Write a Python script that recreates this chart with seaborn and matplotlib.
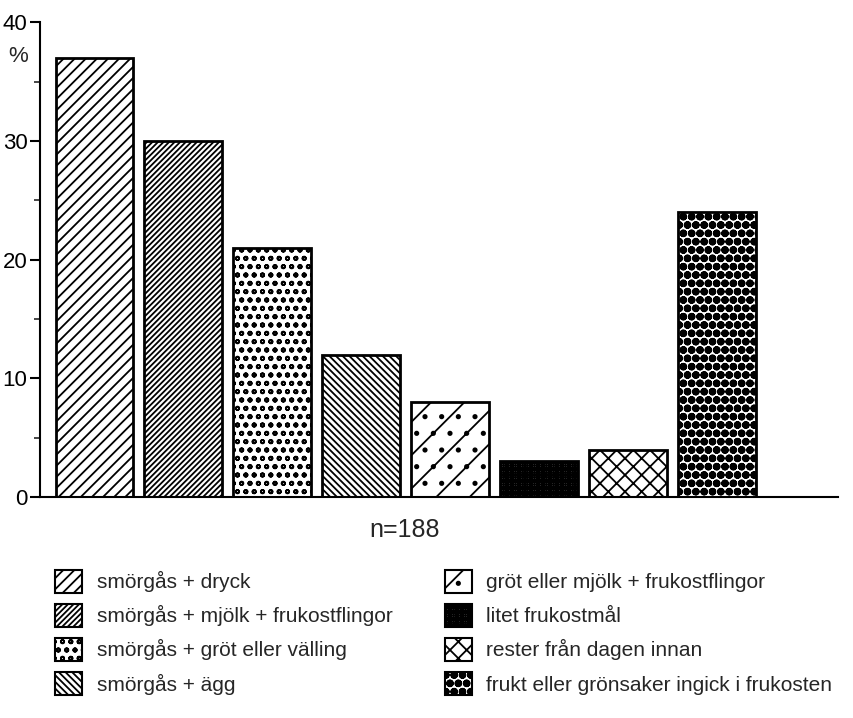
import matplotlib
matplotlib.use("Agg")
import matplotlib.pyplot as plt
import seaborn as sns
import pandas as pd
from matplotlib.patches import Patch

categories = [
    "smörgås + dryck",
    "smörgås + mjölk + frukostflingor",
    "smörgås + gröt eller välling",
    "smörgås + ägg",
    "gröt eller mjölk + frukostflingor",
    "litet frukostmål",
    "rester från dagen innan",
    "frukt eller grönsaker ingick i frukosten",
]
values = [37, 30, 21, 12, 8, 3, 4, 24]
yticks = [0, 10, 20, 30, 40]
hatches = ["///", "//////", "oo", "\\\\\\\\\\", "/.", "+++++++", "xx", "OO.."]

sns.set_theme(style="white")
plt.rcParams["font.family"] = ["Liberation Sans", "DejaVu Sans"]
plt.rcParams["hatch.linewidth"] = 1.3

df = pd.DataFrame({"kat": categories, "val": values})

fig = plt.figure(figsize=(8.54, 7.18), dpi=100)
ax = fig.add_axes([0.0468, 0.3078, 0.9342, 0.6612])

sns.barplot(data=df, x="kat", y="val", hue="kat", order=categories, hue_order=categories,
            palette=["white"] * len(categories), edgecolor="black", linewidth=2,
            width=0.87, legend=False, ax=ax, saturation=1)

for p, h in zip(ax.patches, hatches):
    p.set_hatch(h)
    p.set_edgecolor("black")

ax.set_xlim(-0.61, 8.36)
ax.set_ylim(0, 40)
ax.set_yticks(yticks)
ax.set_yticks([5, 15, 25, 35], minor=True)
ax.set_xticks([])
ax.set_xlabel("")
ax.set_ylabel("")
for s in ["top", "right"]:
    ax.spines[s].set_visible(False)
ax.spines["left"].set_linewidth(1.5)
ax.spines["bottom"].set_linewidth(1.5)
ax.spines["left"].set_color("black")
ax.spines["bottom"].set_color("black")
ax.tick_params(axis="y", which="major", length=7, width=1.5, direction="out", left=True,
               labelsize=16, colors="black", pad=2)
ax.tick_params(axis="y", which="minor", length=4, width=1.2, direction="out", left=True)
fig.text(0.021, 0.921, "%", ha="center", va="center", fontsize=16)

fig.text(0.474, 0.262, "n=188", ha="center", va="center", fontsize=18)

handles = [Patch(facecolor="white", edgecolor="black", hatch=h, linewidth=1.5) for h in hatches]
fig.legend(handles, categories, ncol=2, loc="upper left", bbox_to_anchor=(0.055, 0.218),
           frameon=False, fontsize=15, handlelength=1.3, handleheight=1.3,
           labelspacing=0.55, columnspacing=2.5, handletextpad=0.7, borderaxespad=0)

fig.savefig("out.png", dpi=100)
